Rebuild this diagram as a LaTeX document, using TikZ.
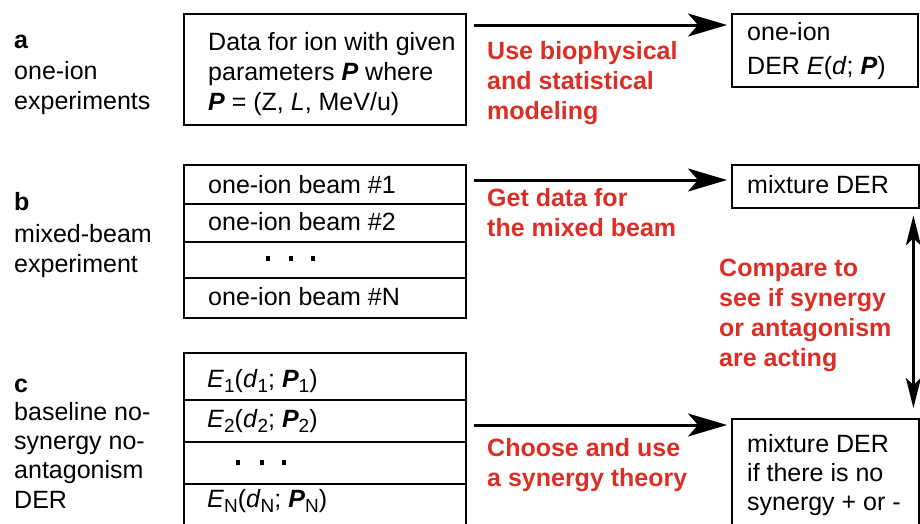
\documentclass[tikz,border=0pt]{standalone}
\usepackage{fontspec}
\setmainfont{Liberation Sans}
\usetikzlibrary{arrows.meta}
\definecolor{lblred}{RGB}{220,46,36}
\newcommand\lsub[1]{\raisebox{-0.22em}{\fontsize{19}{19}\selectfont #1}}
\newcommand\bP{\textbf{\textit{P}}}
\begin{document}
\begin{tikzpicture}[x=1pt,y=-1pt,
  box/.style={draw, line width=2.4pt, anchor=north west, inner sep=0, minimum width=#1},
  txt/.style={anchor=base west, inner sep=0, font=\fontsize{25}{30}\selectfont},
  rtxt/.style={txt, text=lblred, font=\fontsize{25}{30}\selectfont\bfseries},
  btxt/.style={txt, font=\fontsize{25}{30}\selectfont\bfseries},
  bigarrow/.style={line width=3pt, -{Stealth[length=39pt, width=23pt, inset=10pt]}},
  varrow/.style={line width=2.6pt, {Stealth[length=30pt, width=15pt, inset=7pt]}-{Stealth[length=30pt, width=15pt, inset=7pt]}}
]
\useasboundingbox (0,0) rectangle (920,523);
\clip (0,0) rectangle (920,523);

% ---- row a ----
\node[box=282, minimum height=111] (boxA) at (183,13) {};
\node[box=186, minimum height=73] (oneder) at (731,13) {};
\node[btxt] (la) at (14,48) {a};
\node[txt] (la1) at (14,79) {one-ion};
\node[txt] (la2) at (14,109) {experiments};
\node[txt] (ta1) at (208,50) {Data for ion with given};
\node[txt] (ta2) at (208,80) {parameters \bP{} where};
\node[txt] (ta3) at (208,110) {\bP{} = (Z, \textit{L}, MeV/u)};
\node[txt] (td1) at (747,40) {one-ion};
\node[txt] (td2) at (747,74) {DER \textit{E}(\textit{d}; \bP)};
\node[rtxt] (ra1) at (487,59) {Use biophysical};
\node[rtxt] (ra2) at (487,89) {and statistical};
\node[rtxt] (ra3) at (487,119) {modeling};
\draw[bigarrow] ([xshift=7pt,yshift=-12pt]boxA.north east) -- ([xshift=-4pt,yshift=-12pt]oneder.north west);

% ---- row b ----
\node[box=282, minimum height=39] (b1) at (183,164) {};
\node[box=282, minimum height=38] (b2) at (183,203) {};
\node[box=282, minimum height=36] (b3) at (183,241) {};
\node[box=282, minimum height=40] (b4) at (183,277) {};
\node[box=187, minimum height=43] (mixder) at (731,164) {};
\node[btxt] (lb) at (14,210) {b};
\node[txt] (lb1) at (14,242) {mixed-beam};
\node[txt] (lb2) at (14,272) {experiment};
\node[txt] (tb1) at (208,193) {one-ion beam \#1};
\node[txt] (tb2) at (208,230) {one-ion beam \#2};
\node[txt] (tb4) at (208,305) {one-ion beam \#N};
\foreach \x in {268,291,313} \fill (\x-2,256) rectangle (\x+2,261);
\node[txt] (tm) at (747,193) {mixture DER};
\node[rtxt] (rb1) at (487,206) {Get data for};
\node[rtxt] (rb2) at (487,236) {the mixed beam};
\draw[bigarrow] ([xshift=7pt,yshift=-16pt]b1.north east) -- ([xshift=-4pt,yshift=-16pt]mixder.north west);

% ---- compare ----
\node[rtxt] (rc1) at (719,276) {Compare to};
\node[rtxt] (rc2) at (719,306) {see if synergy};
\node[rtxt] (rc3) at (719,336) {or antagonism};
\node[rtxt] (rc4) at (719,366) {are acting};

% ---- row c ----
\node[box=282, minimum height=47] (c1) at (183,352) {};
\node[box=282, minimum height=42] (c2) at (183,399) {};
\node[box=282, minimum height=42] (c3) at (183,441) {};
\node[box=282, minimum height=60] (c4) at (183,483) {};
\node[box=187, minimum height=125] (nosyn) at (731,418) {};
\node[btxt] (lc) at (14,392) {c};
\node[txt] (lc1) at (14,420) {baseline no-};
\node[txt] (lc2) at (14,449) {synergy no-};
\node[txt] (lc3) at (14,478) {antagonism};
\node[txt] (lc4) at (14,508) {DER};
\node[txt] (tc1) at (207,387) {\textit{E}\lsub{1}(\textit{d}\lsub{1}; \bP\lsub{1})};
\node[txt] (tc2) at (207,427) {\textit{E}\lsub{2}(\textit{d}\lsub{2}; \bP\lsub{2})};
\node[txt] (tc4) at (207,507) {\textit{E}\lsub{N}(\textit{d}\lsub{N}; \bP\lsub{N})};
\foreach \x in {238,262,284} \fill (\x-2,460) rectangle (\x+2,465);
\node[txt] (tn1) at (747,452) {mixture DER};
\node[txt] (tn2) at (747,481) {if there is no};
\node[txt] (tn3) at (747,510) {synergy + or -};
\node[rtxt] (rd1) at (487,456) {Choose and use};
\node[rtxt] (rd2) at (487,486) {a synergy theory};
\draw[bigarrow] ([xshift=7pt,yshift=-73pt]c1.north east) -- ([xshift=-4pt,yshift=-7pt]nosyn.north west);

% ---- compare arrow ----
\draw[varrow] ([xshift=-7pt,yshift=-6pt]mixder.south east) -- ([xshift=-7pt,yshift=10pt]nosyn.north east);
\end{tikzpicture}
\end{document}
